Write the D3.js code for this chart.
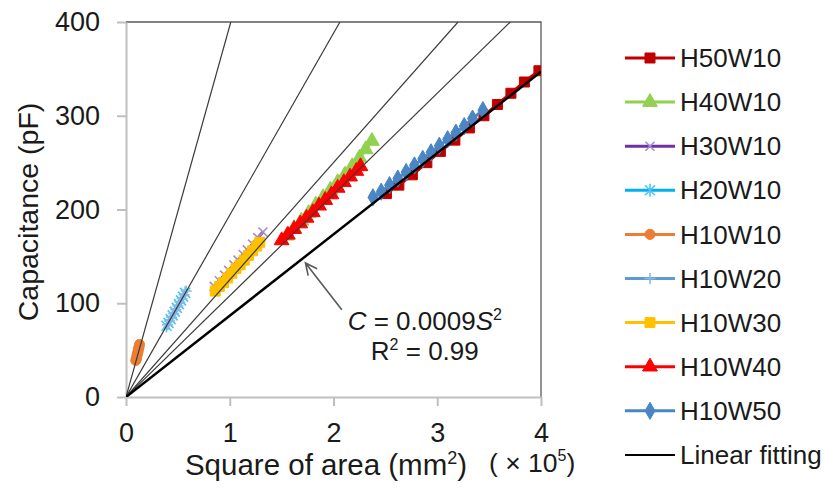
<!DOCTYPE html>
<html>
<head>
<meta charset="utf-8">
<script src="https://cdn.jsdelivr.net/npm/d3@7"></script>
<style>
  body { margin: 0; background: #fff; }
  text { font-family: "Liberation Sans", Arial, sans-serif; fill: #1a1a1a; }
</style>
</head>
<body>
<div id="chart"></div>
<script>
// values (x in 1e5 mm^2, y in pF)
var h50w10X = [2.51, 2.63, 2.76, 2.90, 3.03, 3.17, 3.31, 3.45, 3.58, 3.71, 3.84, 3.98];
var h50w10Y = [217, 226, 237, 250, 262, 274, 287, 300, 312, 324, 336, 348];
var h40w10X = [1.55, 1.62, 1.69, 1.76, 1.83, 1.90, 1.97, 2.04, 2.11, 2.18, 2.25, 2.31, 2.37];
var h40w10Y = [172, 180, 188, 196, 205, 213, 221, 229, 237, 246, 255, 264, 273];
var h30w10X = [0.85, 0.90, 0.95, 0.99, 1.04, 1.08, 1.13, 1.17, 1.22, 1.27, 1.32];
var h30w10Y = [118, 124, 130, 135, 141, 146, 152, 157, 163, 170, 176];
var h20w10X = [0.39, 0.41, 0.43, 0.45, 0.47, 0.49, 0.51, 0.53, 0.55, 0.57];
var h20w10Y = [76, 79, 83, 87, 91, 95, 99, 103, 107, 111];
var h10w10X = [0.095, 0.100, 0.105, 0.110, 0.115, 0.120, 0.125, 0.130];
var h10w10Y = [39, 41, 44, 46, 48, 51, 53, 56];
var h10w20X = [0.40, 0.42, 0.44, 0.46, 0.48, 0.50, 0.52, 0.54, 0.56, 0.58];
var h10w20Y = [77, 81, 85, 89, 93, 97, 101, 105, 109, 113];
var h10w30X = [0.86, 0.90, 0.94, 0.98, 1.02, 1.06, 1.10, 1.14, 1.18, 1.22, 1.26, 1.29];
var h10w30Y = [113, 118, 122, 127, 132, 137, 141, 146, 151, 156, 161, 165];
var h10w40X = [1.50, 1.56, 1.62, 1.68, 1.74, 1.80, 1.86, 1.92, 1.98, 2.04, 2.10, 2.16, 2.22, 2.26];
var h10w40Y = [167, 173, 179, 185, 191, 197, 204, 210, 216, 223, 229, 235, 241, 246];
var h10w50X = [2.38, 2.46, 2.54, 2.62, 2.70, 2.78, 2.86, 2.94, 3.02, 3.10, 3.18, 3.26, 3.34, 3.44];
var h10w50Y = [213, 219, 226, 233, 240, 247, 254, 261, 268, 275, 282, 289, 297, 306];

var guideSlopes = [396, 194, 125, 108];   // thin lines through the origin
var fitEnd = [4, 347];                    // black linear fitting line, from (0,0)
var xTicks = [0, 1, 2, 3, 4];
var yTicks = [0, 100, 200, 300, 400];

var series = [
  { name: 'H50W10', x: h50w10X, y: h50w10Y, color: '#C00000', mark: 'square', mcolor: '#C00000' },
  { name: 'H40W10', x: h40w10X, y: h40w10Y, color: '#92D050', mark: 'triangle', mcolor: '#92D050' },
  { name: 'H30W10', x: h30w10X, y: h30w10Y, color: '#7030A0', mark: 'x', mcolor: '#A58BD3' },
  { name: 'H20W10', x: h20w10X, y: h20w10Y, color: '#00B0F0', mark: 'star', mcolor: '#4FC3F7' },
  { name: 'H10W10', x: h10w10X, y: h10w10Y, color: '#ED7D31', mark: 'circle', mcolor: '#ED7D31' },
  { name: 'H10W20', x: h10w20X, y: h10w20Y, color: '#5B9BD5', mark: 'plus', mcolor: '#8DB8E2' },
  { name: 'H10W30', x: h10w30X, y: h10w30Y, color: '#FFC000', mark: 'square', mcolor: '#FFC000' },
  { name: 'H10W40', x: h10w40X, y: h10w40Y, color: '#FF0000', mark: 'triangle', mcolor: '#FF0000' },
  { name: 'H10W50', x: h10w50X, y: h10w50Y, color: '#4A86C5', mark: 'diamond', mcolor: '#4A86C5' }
];

var W = 825, H = 489;
var m = { left: 126, top: 22, right: 284, bottom: 92 };
var pw = W - m.left - m.right, ph = H - m.top - m.bottom;

var x = d3.scaleLinear().domain([0, 4]).range([0, pw]);
var y = d3.scaleLinear().domain([0, 400]).range([ph, 0]);

var svg = d3.select('#chart').append('svg')
  .attr('width', W).attr('height', H);

svg.append('defs').append('clipPath').attr('id', 'clip')
  .append('rect').attr('width', pw).attr('height', ph);

var g = svg.append('g').attr('transform', 'translate(' + m.left + ',' + m.top + ')');

// frame top / right
g.append('path')
  .attr('d', 'M0,0H' + pw + 'V' + ph)
  .attr('fill', 'none').attr('stroke', '#595959').attr('stroke-width', 1.3);

var xAxis = g.append('g').attr('transform', 'translate(0,' + ph + ')')
  .call(d3.axisBottom(x).tickValues(xTicks).tickSize(9).tickSizeOuter(0).tickPadding(17).tickFormat(d3.format('d')));
var yAxis = g.append('g')
  .call(d3.axisLeft(y).tickValues(yTicks).tickSize(9).tickSizeOuter(0).tickPadding(17));
[xAxis, yAxis].forEach(function(a){
  a.select('.domain').attr('stroke', '#BFBFBF').attr('stroke-width', 2);
  a.selectAll('.tick line').attr('stroke', '#BFBFBF').attr('stroke-width', 2);
  a.selectAll('.tick text').style('font-size', '27px').attr('fill', '#1a1a1a')
    .style('font-family', '"Liberation Sans", Arial, sans-serif');
});

// markers
function markPath(kind){
  if( kind == 'square' ) return d3.symbol(d3.symbolSquare, 100)();
  if( kind == 'triangle' ) return d3.symbol(d3.symbolTriangle, 95)();
  if( kind == 'diamond' ) return d3.symbol(d3.symbolDiamond, 85)();
  if( kind == 'circle' ) return d3.symbol(d3.symbolCircle, 80)();
  if( kind == 'x' ) return 'M-4.5,-4.5L4.5,4.5M-4.5,4.5L4.5,-4.5';
  if( kind == 'star' ) return 'M-5,-5L5,5M-5,5L5,-5M0,-6.5L0,6.5';
  if( kind == 'plus' ) return 'M-5.5,0L5.5,0M0,-5.5L0,5.5';
}
function isStroke(kind){ return kind == 'x' || kind == 'star' || kind == 'plus'; }

var plot = g.append('g').attr('clip-path', 'url(#clip)');
var line = d3.line().x(function(d){ return x(d[0]); }).y(function(d){ return y(d[1]); });

series.forEach(function(s){
  var pts = s.x.map(function(v, i){ return [v, s.y[i]]; });
  plot.append('path').datum(pts).attr('d', line)
    .attr('fill', 'none').attr('stroke', s.color).attr('stroke-width', 3);
  plot.selectAll(null).data(pts).enter().append('path')
    .attr('transform', function(d){ return 'translate(' + x(d[0]) + ',' + y(d[1]) + ')'; })
    .attr('d', markPath(s.mark))
    .attr('fill', isStroke(s.mark) ? 'none' : s.mcolor)
    .attr('stroke', s.mcolor)
    .attr('stroke-width', isStroke(s.mark) ? 1.6 : 1);
});

// guide lines through origin
plot.selectAll('.guide').data(guideSlopes).enter().append('line')
  .attr('class', 'guide')
  .attr('x1', x(0)).attr('y1', y(0))
  .attr('x2', function(k){ return x(400 / k); }).attr('y2', y(400))
  .attr('stroke', '#3a3a3a').attr('stroke-width', 1.2);

plot.append('line')
  .attr('x1', x(0)).attr('y1', y(0)).attr('x2', x(fitEnd[0])).attr('y2', y(fitEnd[1]))
  .attr('stroke', '#000').attr('stroke-width', 2.5);

// annotation arrow
var tip = [x(1.73), y(143)], tail = [x(2.08), y(93)];
var ang = Math.atan2(tip[1] - tail[1], tip[0] - tail[0]);
var ah = 13, spread = 0.45;
g.append('path')
  .attr('d', 'M' + tail + 'L' + tip +
    'M' + [tip[0] - ah * Math.cos(ang - spread), tip[1] - ah * Math.sin(ang - spread)] + 'L' + tip +
    'L' + [tip[0] - ah * Math.cos(ang + spread), tip[1] - ah * Math.sin(ang + spread)])
  .attr('fill', 'none').attr('stroke', '#595959').attr('stroke-width', 1.6);

var eq = g.append('text').attr('x', x(2.88)).attr('y', y(71.5))
  .attr('text-anchor', 'middle').style('font-size', '26px');
eq.append('tspan').style('font-style', 'italic').text('C');
eq.append('tspan').text(' = 0.0009');
eq.append('tspan').style('font-style', 'italic').text('S');
eq.append('tspan').attr('dy', -10).style('font-size', '16px').text('2');
var r2 = g.append('text').attr('x', x(2.88)).attr('y', y(39.5))
  .attr('text-anchor', 'middle').style('font-size', '26px');
r2.append('tspan').text('R');
r2.append('tspan').attr('dy', -10).style('font-size', '16px').text('2');
r2.append('tspan').attr('dy', 10).text(' = 0.99');

// axis titles
var xt = svg.append('text').attr('x', 326).attr('y', 475)
  .attr('text-anchor', 'middle').style('font-size', '29.5px');
xt.append('tspan').text('Square of area (mm');
xt.append('tspan').attr('dy', -11).style('font-size', '18px').text('2');
xt.append('tspan').attr('dy', 11).text(')');

var xu = svg.append('text').attr('x', 489).attr('y', 472).style('font-size', '26.5px');
xu.append('tspan').text('( \u00d7 10');
xu.append('tspan').attr('dy', -11).style('font-size', '16px').text('5');
xu.append('tspan').attr('dy', 11).text(')');

svg.append('text')
  .attr('transform', 'translate(38,212) rotate(-90)')
  .attr('text-anchor', 'middle').style('font-size', '28.5px')
  .text('Capacitance (pF)');

// legend
var legendNames = series.map(function(s){ return s.name; }).concat(['Linear fitting']);
var leg = svg.append('g').attr('transform', 'translate(625,58)');
var items = leg.selectAll('g').data(legendNames).enter().append('g')
  .attr('transform', function(d, i){ return 'translate(0,' + (i * 44.1) + ')'; });
items.append('line').attr('x1', 0).attr('x2', 50)
  .attr('stroke', function(d, i){ return i < series.length ? series[i].color : '#000'; })
  .attr('stroke-width', function(d, i){ return i < series.length ? 3 : 2; });
items.filter(function(d, i){ return i < series.length; })
  .append('path')
  .attr('transform', 'translate(25,0)')
  .attr('d', function(d, i){ return markPath(series[i].mark); })
  .attr('fill', function(d, i){ return isStroke(series[i].mark) ? 'none' : series[i].mcolor; })
  .attr('stroke', function(d, i){ return series[i].mcolor; })
  .attr('stroke-width', function(d, i){ return isStroke(series[i].mark) ? 1.6 : 1; });
items.append('text').attr('x', 55).attr('dy', '0.35em')
  .style('font-size', '26px').text(function(d){ return d; });
</script>
</body>
</html>
